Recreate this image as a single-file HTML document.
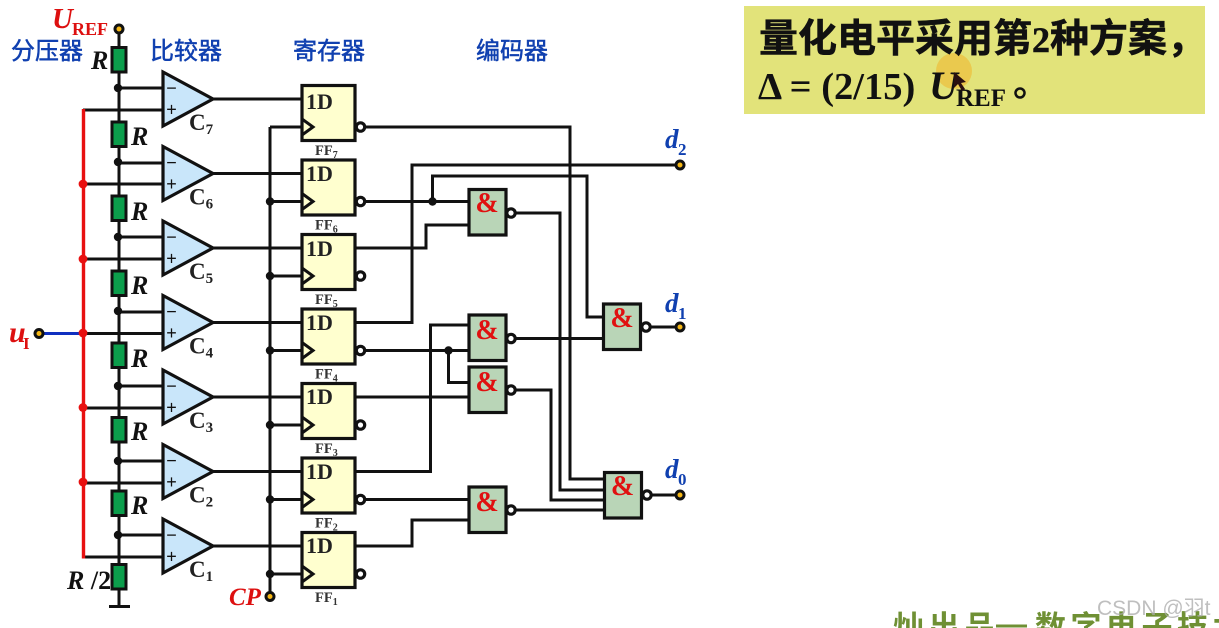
<!DOCTYPE html>
<html><head><meta charset="utf-8">
<style>
html,body{margin:0;padding:0;background:#fff;width:1219px;height:628px;overflow:hidden}
svg{display:block}
.w{fill:none;stroke:#111;stroke-width:3}
.cn{font-family:"Liberation Sans","Noto Sans CJK SC",sans-serif;font-size:24px;fill:#1040b0;stroke:#1040b0;stroke-width:.5}
.s{font-family:"Liberation Serif","Noto Serif CJK SC",serif;font-weight:bold}
.i{font-style:italic}
.c{font-size:23px;fill:#222}
.sub{font-size:15px}
.d1{font-size:22px;fill:#222}
.ff{font-size:14.5px;fill:#333}
.amp{font-size:28px;fill:#e01010;text-anchor:middle}
.r{font-size:26px;fill:#111}
.pm{font-family:"Liberation Sans",sans-serif;font-size:18px;fill:#111;text-anchor:middle}
</style></head><body>
<svg width="1219" height="628" viewBox="0 0 1219 628" xmlns="http://www.w3.org/2000/svg">
<defs>
<rect id="res" x="-7" y="0" width="14" height="24.5" fill="#0c9e4c" stroke="#111" stroke-width="3"/>
<polygon id="cmp" points="163,72 213,99 163,126" fill="#c9e6fa" stroke="#111" stroke-width="3.2"/>
<g id="ffb">
<rect x="302" y="85.5" width="53" height="55" fill="#ffffcf" stroke="#111" stroke-width="3.2"/>
<polyline points="302,119 313,127 302,135" fill="none" stroke="#111" stroke-width="3"/>
<circle cx="360.5" cy="127" r="4.2" fill="#fff" stroke="#111" stroke-width="3.2"/>
</g>
<rect id="gate" x="0" y="0" width="37" height="45.5" fill="#b9d5b7" stroke="#111" stroke-width="3.2"/>
<circle id="bub" r="4.2" fill="#fff" stroke="#111" stroke-width="3.2"/>
<circle id="term" r="4" fill="#f6b816" stroke="#111" stroke-width="3"/>
<circle id="dot" r="4.2" fill="#111"/>
<circle id="rd" r="4.4" fill="#e81010"/>
</defs>

<!-- main wires -->
<g class="w">
<path d="M119,33V606M109,606.5H130"/>
<path d="M119,88H165M119,163H165M119,237H165M119,312H165M119,386H165M119,461H165M119,535H165"/>
<path d="M83,110H165M83,184H165M83,259H165M83,333.5H165M83,408H165M83,483H165M83,557H165"/>
<path d="M213,99H302M213,173.5H302M213,248H302M213,322.5H302M213,397H302M213,471.5H302M213,546H302"/>
<path d="M270,127V596M270,127H303M270,201.5H303M270,276H303M270,350.5H303M270,425H303M270,499.5H303M270,574H303"/>
<path d="M365,127H570V479H604"/>
<path d="M365,201.5H468M432.5,201.5V176H587V317H603"/>
<path d="M355,248H426V225H468"/>
<path d="M355,322.5H412V165H680"/>
<path d="M515,213H560V490H604"/>
<path d="M515,338.5H603"/>
<path d="M365,350.5H468M448.5,350.5V382.5H468"/>
<path d="M355,471.5H430.5V325H468"/>
<path d="M515,390H551V500H604"/>
<path d="M355,397H468"/>
<path d="M365,499.5H468"/>
<path d="M515,510H604"/>
<path d="M355,546H412V520H468"/>
<path d="M650,327H680M650,495H680"/>
</g>
<path d="M83.5,109V558.5" fill="none" stroke="#e81010" stroke-width="3.4"/>
<path d="M42,333.5H83" fill="none" stroke="#1030c0" stroke-width="3"/>

<!-- resistors -->
<use href="#res" x="119" y="47.5"/>
<use href="#res" x="119" y="122"/>
<use href="#res" x="119" y="196"/>
<use href="#res" x="119" y="271"/>
<use href="#res" x="119" y="343"/>
<use href="#res" x="119" y="417.5"/>
<use href="#res" x="119" y="491"/>
<use href="#res" x="119" y="564.5"/>

<!-- dots -->
<use href="#dot" x="118" y="88"/><use href="#dot" x="118" y="162"/><use href="#dot" x="118" y="237"/><use href="#dot" x="118" y="311"/><use href="#dot" x="118" y="386"/><use href="#dot" x="118" y="461"/><use href="#dot" x="118" y="535"/>
<use href="#rd" x="83" y="184"/><use href="#rd" x="83" y="259"/><use href="#rd" x="83" y="333"/><use href="#rd" x="83" y="407.5"/><use href="#rd" x="83" y="482"/>
<use href="#dot" x="270" y="201.5"/><use href="#dot" x="270" y="276"/><use href="#dot" x="270" y="350.5"/><use href="#dot" x="270" y="425"/><use href="#dot" x="270" y="499.5"/><use href="#dot" x="270" y="574"/>
<use href="#dot" x="432.5" y="201.5"/><use href="#dot" x="448.5" y="350.5"/>

<!-- comparators -->
<use href="#cmp"/><use href="#cmp" y="74.5"/><use href="#cmp" y="149"/><use href="#cmp" y="223.5"/><use href="#cmp" y="298"/><use href="#cmp" y="372.5"/><use href="#cmp" y="447"/>
<g class="pm">
<text x="171.5" y="94">−</text><text x="171.5" y="115.5">+</text>
<text x="171.5" y="168.5">−</text><text x="171.5" y="190">+</text>
<text x="171.5" y="243">−</text><text x="171.5" y="264.5">+</text>
<text x="171.5" y="317.5">−</text><text x="171.5" y="339">+</text>
<text x="171.5" y="392">−</text><text x="171.5" y="413.5">+</text>
<text x="171.5" y="466.5">−</text><text x="171.5" y="488">+</text>
<text x="171.5" y="541">−</text><text x="171.5" y="562.5">+</text>
</g>
<g class="s c">
<text x="189" y="130">C<tspan class="sub" dy="4">7</tspan></text>
<text x="189" y="204.5">C<tspan class="sub" dy="4">6</tspan></text>
<text x="189" y="279">C<tspan class="sub" dy="4">5</tspan></text>
<text x="189" y="353.5">C<tspan class="sub" dy="4">4</tspan></text>
<text x="189" y="428">C<tspan class="sub" dy="4">3</tspan></text>
<text x="189" y="502.5">C<tspan class="sub" dy="4">2</tspan></text>
<text x="189" y="577">C<tspan class="sub" dy="4">1</tspan></text>
</g>

<!-- flip-flops -->
<use href="#ffb"/><use href="#ffb" y="74.5"/><use href="#ffb" y="149"/><use href="#ffb" y="223.5"/><use href="#ffb" y="298"/><use href="#ffb" y="372.5"/><use href="#ffb" y="447"/>
<g class="s d1">
<text x="306" y="109">1D</text><text x="306" y="181">1D</text><text x="306" y="256">1D</text><text x="306" y="330">1D</text><text x="306" y="404">1D</text><text x="306" y="479">1D</text><text x="306" y="553">1D</text>
</g>
<g class="s ff">
<text x="315" y="155">FF<tspan font-size="10" dy="3">7</tspan></text>
<text x="315" y="229.5">FF<tspan font-size="10" dy="3">6</tspan></text>
<text x="315" y="304">FF<tspan font-size="10" dy="3">5</tspan></text>
<text x="315" y="378.5">FF<tspan font-size="10" dy="3">4</tspan></text>
<text x="315" y="453">FF<tspan font-size="10" dy="3">3</tspan></text>
<text x="315" y="527.5">FF<tspan font-size="10" dy="3">2</tspan></text>
<text x="315" y="602">FF<tspan font-size="10" dy="3">1</tspan></text>
</g>

<!-- NAND gates -->
<use href="#gate" x="469" y="189.5"/><use href="#gate" x="469" y="315"/><use href="#gate" x="469" y="367"/><use href="#gate" x="469" y="487"/><use href="#gate" x="603.5" y="304"/><use href="#gate" x="604.5" y="472.5"/>
<use href="#bub" x="511" y="213"/><use href="#bub" x="511" y="338.5"/><use href="#bub" x="511" y="390"/><use href="#bub" x="511" y="510"/><use href="#bub" x="646" y="327"/><use href="#bub" x="647" y="495"/>
<g class="s amp">
<text x="487" y="212">&amp;</text><text x="487" y="339">&amp;</text><text x="487" y="391">&amp;</text><text x="487" y="511">&amp;</text><text x="622" y="327">&amp;</text><text x="622.5" y="495">&amp;</text>
</g>

<!-- terminals -->
<use href="#term" x="119" y="29"/><use href="#term" x="39" y="333.5"/><use href="#term" x="270" y="596.5"/><use href="#term" x="680" y="165"/><use href="#term" x="680" y="327"/><use href="#term" x="680" y="495"/>

<!-- labels -->
<text class="s i" x="52" y="28" font-size="29" fill="#dd1010">U</text>
<text class="s" x="72" y="35" font-size="18" fill="#dd1010">REF</text>
<text class="cn" x="11" y="59">分压器</text>
<text class="cn" x="150" y="59">比较器</text>
<text class="cn" x="293" y="59">寄存器</text>
<text class="cn" x="476" y="59">编码器</text>
<text class="s i r" x="91" y="69">R</text>
<text class="s i r" x="131" y="145">R</text>
<text class="s i r" x="131" y="220">R</text>
<text class="s i r" x="131" y="294">R</text>
<text class="s i r" x="131" y="367">R</text>
<text class="s i r" x="131" y="440">R</text>
<text class="s i r" x="131" y="514">R</text>
<text class="s r" x="67" y="589"><tspan class="i">R</tspan> /2</text>
<text class="s i" x="9" y="342" font-size="30" fill="#dd1010">u</text>
<text class="s" x="23" y="349" font-size="17" fill="#dd1010">I</text>
<text class="s i" x="229" y="605" font-size="25" fill="#dd1010">CP</text>
<text class="s i" x="665" y="148" font-size="27" fill="#1040b0">d</text><text class="s" x="678" y="155" font-size="17" fill="#1040b0">2</text>
<text class="s i" x="665" y="312" font-size="27" fill="#1040b0">d</text><text class="s" x="678" y="319" font-size="17" fill="#1040b0">1</text>
<text class="s i" x="665" y="478" font-size="27" fill="#1040b0">d</text><text class="s" x="678" y="485" font-size="17" fill="#1040b0">0</text>

<!-- note panel -->
<rect x="744" y="6" width="461" height="108" fill="#e2e37a"/>
<circle cx="954" cy="71" r="18" fill="#ecc040" opacity=".75"/>
<text x="759" y="52" font-family="'Liberation Serif','Noto Sans CJK SC',sans-serif" font-weight="bold" font-size="39" fill="#111" stroke="#111" stroke-width=".5">量化电平采用第<tspan font-size="36">2</tspan>种方案，</text>
<text class="s" x="758" y="99" font-size="38.500" fill="#111">Δ = (2/15)</text>
<text class="s i" x="929" y="99" font-size="40" fill="#111">U</text>
<text class="s" x="956" y="106" font-size="25" fill="#111">REF</text>
<circle cx="1020" cy="93" r="4.5" fill="none" stroke="#111" stroke-width="2.5"/>
<polygon points="954,72 954,88 958,84 962,91 965,89 961,83 966,82" fill="#2a1010"/>

<!-- bottom strip -->
<text x="893" y="638" font-family="'Liberation Sans','Noto Sans CJK SC',sans-serif" font-weight="bold" font-size="31" letter-spacing="4.5" fill="#6f9034">灿出品</text>
<text x="996" y="634" font-family="'Liberation Sans','Noto Sans CJK SC',sans-serif" font-weight="bold" font-size="31" fill="#6f9034">—</text>
<text x="1035" y="638" font-family="'Liberation Sans','Noto Sans CJK SC',sans-serif" font-weight="bold" font-size="31" letter-spacing="4.5" fill="#6f9034">数字电子技术</text>
<text x="1097" y="615" font-family="'Liberation Sans','Noto Sans CJK SC',sans-serif" font-size="21" fill="#aaa" opacity=".75">CSDN @羽t</text>
</svg>
</body></html>
